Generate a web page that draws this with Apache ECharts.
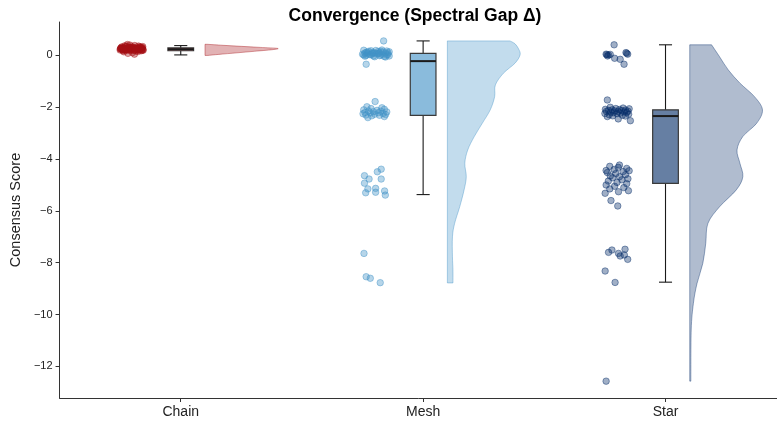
<!DOCTYPE html>
<html>
<head>
<meta charset="utf-8">
<script src="https://cdn.jsdelivr.net/npm/echarts@6/dist/echarts.min.js"></script>
<style>
  html, body { margin: 0; padding: 0; background: #ffffff; }
  #chart { width: 777px; height: 423px; }
</style>
</head>
<body>
<div id="chart"></div>
<script>
// Topologies and their colours
const categories = ['Chain', 'Mesh', 'Star'];
const palette = ['#a50f15', '#4292c6', '#08306b'];
const yTicks = [-12, -10, -8, -6, -4, -2, 0];

// Individual runs: [horizontal jitter, consensus score]
const chainPoints = [
  [-0.245,0.31],[-0.232,0.27],[-0.221,0.35],[-0.208,0.22],[-0.196,0.29],[-0.183,0.25],[-0.171,0.33],[-0.160,0.20],[-0.238,0.18],[-0.226,0.26],
  [-0.214,0.30],[-0.202,0.24],[-0.190,0.38],[-0.177,0.21],[-0.165,0.28],[-0.156,0.23],[-0.249,0.25],[-0.235,0.14],[-0.219,0.29],[-0.205,0.32],
  [-0.193,0.19],[-0.180,0.27],[-0.168,0.24],[-0.158,0.30],[-0.241,0.22],[-0.229,0.34],[-0.216,0.26],[-0.199,0.11],[-0.186,0.23],[-0.174,0.36],
  [-0.162,0.26],[-0.247,0.28],[-0.233,0.21],[-0.222,0.25],[-0.210,0.40],[-0.197,0.27],[-0.184,0.17],[-0.172,0.29],[-0.159,0.24],[-0.243,0.33],
  [-0.230,0.23],[-0.218,0.08],[-0.206,0.26],[-0.194,0.30],[-0.181,0.22],[-0.169,0.25],[-0.157,0.34],[-0.239,0.27],[-0.224,0.20],[-0.212,0.31],
  [-0.200,0.25],[-0.188,0.28],[-0.176,0.15],[-0.164,0.27],[-0.250,0.21],[-0.236,0.29],[-0.223,0.24],[-0.211,0.19],[-0.198,0.33],[-0.185,0.26],
  [-0.173,0.22],[-0.161,0.30],[-0.244,0.26],[-0.231,0.37],[-0.217,0.23],[-0.204,0.28],[-0.191,0.05],[-0.179,0.25],[-0.166,0.32],[-0.155,0.20],
  [-0.240,0.28],[-0.227,0.24],[-0.213,0.30],[-0.201,0.21],[-0.189,0.27],[-0.175,0.29],[-0.163,0.18],[-0.248,0.26],[-0.234,0.23],[-0.220,0.42]
];

const meshPoints = [
  [-0.163,0.56],
  [-0.245,0.20],[-0.230,0.12],[-0.215,0.18],[-0.200,0.10],[-0.185,0.15],[-0.170,0.21],[-0.155,0.09],[-0.140,0.14],[-0.240,0.09],[-0.225,0.16],
  [-0.210,0.11],[-0.195,0.19],[-0.180,0.10],[-0.165,0.13],[-0.150,0.17],[-0.235,0.12],[-0.205,0.09],[-0.175,0.16],[-0.145,0.10],
  [-0.250,0.05],[-0.235,0.00],[-0.220,0.03],[-0.205,-0.02],[-0.190,0.06],[-0.175,0.01],[-0.160,-0.04],[-0.145,0.04],[-0.240,-0.03],[-0.210,0.07],
  [-0.180,-0.01],[-0.150,0.02],[-0.230,0.06],[-0.200,-0.05],[-0.170,0.05],[-0.140,-0.02],[-0.215,0.03],[-0.185,0.07],[-0.155,-0.06],[-0.245,0.02],
  [-0.235,-0.34],
  [-0.198,-1.78],[-0.232,-1.98],[-0.170,-2.02],[-0.215,-2.05],[-0.160,-2.08],[-0.245,-2.10],[-0.190,-2.12],[-0.225,-2.14],[-0.175,-2.15],[-0.205,-2.17],
  [-0.150,-2.18],[-0.240,-2.20],[-0.185,-2.21],[-0.218,-2.22],[-0.165,-2.24],[-0.248,-2.25],[-0.200,-2.27],[-0.155,-2.28],[-0.236,-2.30],[-0.180,-2.31],
  [-0.212,-2.33],[-0.160,-2.36],[-0.228,-2.40],
  [-0.242,-4.64],[-0.223,-4.77],[-0.242,-4.93],[-0.189,-4.49],[-0.173,-4.39],[-0.173,-4.77],[-0.196,-5.13],[-0.228,-5.15],[-0.237,-5.30],[-0.196,-5.28],
  [-0.159,-5.23],[-0.156,-5.39],
  [-0.244,-7.64],[-0.235,-8.54],[-0.218,-8.60],[-0.177,-8.77]
];

const starPoints = [
  [-0.212,0.41],[-0.245,0.05],[-0.235,0.02],[-0.239,-0.02],[-0.210,-0.11],[-0.187,-0.15],[-0.163,0.11],[-0.156,0.05],[-0.171,-0.34],[-0.242,0.03],
  [-0.160,0.08],[-0.228,0.04],
  [-0.240,-1.72],[-0.228,-2.00],[-0.175,-2.03],[-0.205,-2.05],[-0.150,-2.06],[-0.248,-2.08],[-0.190,-2.09],[-0.220,-2.10],[-0.165,-2.11],[-0.235,-2.12],
  [-0.182,-2.13],[-0.210,-2.14],[-0.155,-2.15],[-0.244,-2.16],[-0.196,-2.17],[-0.170,-2.18],[-0.226,-2.19],[-0.160,-2.20],[-0.214,-2.21],[-0.186,-2.22],
  [-0.250,-2.24],[-0.200,-2.25],[-0.152,-2.27],[-0.232,-2.29],[-0.178,-2.31],[-0.218,-2.33],[-0.165,-2.34],[-0.240,-2.36],[-0.195,-2.45],[-0.145,-2.52],
  [-0.197,-5.81],[-0.225,-5.60],[-0.249,-5.32],[-0.194,-5.26],[-0.153,-5.22],[-0.230,-5.15],[-0.172,-5.10],[-0.210,-5.05],[-0.245,-5.00],[-0.160,-4.95],
  [-0.200,-4.90],[-0.236,-4.85],[-0.180,-4.80],[-0.155,-4.76],[-0.218,-4.72],[-0.190,-4.68],[-0.228,-4.65],[-0.165,-4.60],[-0.205,-4.56],[-0.240,-4.52],
  [-0.175,-4.48],[-0.150,-4.45],[-0.245,-4.44],[-0.212,-4.40],[-0.160,-4.36],[-0.195,-4.32],[-0.230,-4.28],[-0.190,-4.23],
  [-0.235,-7.60],[-0.221,-7.51],[-0.194,-7.64],[-0.187,-7.74],[-0.167,-7.48],[-0.170,-7.70],[-0.156,-7.87],[-0.249,-8.32],[-0.208,-8.76],
  [-0.245,-12.57]
];

// Box summaries: [lower whisker, Q1, median, Q3, upper whisker]
const chainBox = [0.02, 0.18, 0.24, 0.29, 0.38];
const meshBox = [-5.37, -2.31, -0.22, 0.08, 0.56];
const starBox = [-8.75, -4.94, -2.34, -2.10, 0.41];

// Density profiles: [score, relative width], bottom to top
const chainDensity = [
  [0.00,0.04],[0.04,0.19],[0.10,0.44],[0.16,0.68],[0.22,0.92],[0.27,1.00],[0.31,0.76],[0.35,0.50],[0.39,0.25],[0.43,0.03]
];
const meshDensity = [
  [-8.78,0.077],[-8.28,0.077],[-7.77,0.07],[-7.00,0.07],[-6.48,0.10],[-5.84,0.17],[-5.19,0.23],[-4.68,0.26],[-4.16,0.24],[-3.65,0.28],
  [-3.13,0.37],[-2.62,0.48],[-2.10,0.59],[-1.59,0.65],[-1.14,0.66],[-0.69,0.77],[-0.30,0.93],[0.02,1.00],[0.25,0.98],[0.45,0.93],[0.56,0.86]
];
const starDensity = [
  [-12.57,0.015],[-10.60,0.02],[-9.57,0.05],[-8.80,0.10],[-8.02,0.18],[-7.25,0.22],[-6.48,0.25],[-5.84,0.41],[-5.19,0.64],[-4.68,0.73],
  [-4.16,0.69],[-3.65,0.65],[-3.13,0.73],[-2.62,0.92],[-2.10,1.00],[-1.59,0.89],[-1.07,0.69],[-0.56,0.53],[-0.05,0.41],[0.41,0.30]
];

const pointSets = [chainPoints, meshPoints, starPoints];
const boxSets = [chainBox, meshBox, starBox];
const densitySets = [chainDensity, meshDensity, starDensity];

const FONT = '"Liberation Sans", Arial, Helvetica, sans-serif';
const VIOLIN_OFFSET = 0.1;
const VIOLIN_WIDTH = 0.3;
const BOX_HALF = 0.053;
const CAP_HALF = 0.027;

function rgba(hex, a) {
  const n = parseInt(hex.slice(1), 16);
  return 'rgba(' + ((n >> 16) & 255) + ',' + ((n >> 8) & 255) + ',' + (n & 255) + ',' + a + ')';
}

// Half violin: flat edge on the left, smooth density outline on the right
function renderViolin(params, api) {
  const i = api.value(0);
  const prof = densitySets[i];
  const base = i + VIOLIN_OFFSET;
  const pts = prof.map(function (d) { return api.coord([base + VIOLIN_WIDTH * d[1], d[0]]); });
  const lb = api.coord([base, prof[0][0]]);
  const lt = api.coord([base, prof[prof.length - 1][0]]);
  let d = 'M' + lb[0] + ',' + lb[1] + ' L' + pts[0][0] + ',' + pts[0][1];
  for (let k = 0; k < pts.length - 1; k++) {
    const p0 = pts[Math.max(k - 1, 0)], p1 = pts[k], p2 = pts[k + 1], p3 = pts[Math.min(k + 2, pts.length - 1)];
    const c1x = p1[0] + (p2[0] - p0[0]) / 6, c1y = p1[1] + (p2[1] - p0[1]) / 6;
    const c2x = p2[0] - (p3[0] - p1[0]) / 6, c2y = p2[1] - (p3[1] - p1[1]) / 6;
    d += ' C' + c1x + ',' + c1y + ' ' + c2x + ',' + c2y + ' ' + p2[0] + ',' + p2[1];
  }
  d += ' L' + lt[0] + ',' + lt[1] + ' Z';
  return {
    type: 'path',
    shape: { pathData: d },
    style: { fill: rgba(palette[i], 0.32), stroke: rgba(palette[i], 0.4), lineWidth: 1 }
  };
}

function renderBox(params, api) {
  const i = api.value(0);
  const lo = api.value(1), q1 = api.value(2), med = api.value(3), q3 = api.value(4), hi = api.value(5);
  const tl = api.coord([i - BOX_HALF, q3]);
  const br = api.coord([i + BOX_HALF, q1]);
  const line = function (x1, y1, x2, y2, w) {
    const a = api.coord([x1, y1]), b = api.coord([x2, y2]);
    return { type: 'line', shape: { x1: a[0], y1: a[1], x2: b[0], y2: b[1] }, style: { stroke: '#1a1a1a', lineWidth: w } };
  };
  return {
    type: 'group',
    children: [
      line(i, q3, i, hi, 1.1),
      line(i, q1, i, lo, 1.1),
      line(i - CAP_HALF, hi, i + CAP_HALF, hi, 1.1),
      line(i - CAP_HALF, lo, i + CAP_HALF, lo, 1.1),
      {
        type: 'rect',
        shape: { x: tl[0], y: tl[1], width: br[0] - tl[0], height: br[1] - tl[1] },
        style: { fill: rgba(palette[i], 0.62), stroke: '#3a3a3a', lineWidth: 1.2 }
      },
      line(i - BOX_HALF, med, i + BOX_HALF, med, 2)
    ]
  };
}

const series = [];
series.push({
  type: 'custom',
  renderItem: renderViolin,
  data: categories.map(function (c, i) { return [i]; }),
  silent: true, z: 1
});
series.push({
  type: 'custom',
  renderItem: renderBox,
  data: boxSets.map(function (b, i) { return [i].concat(b); }),
  silent: true, z: 2
});
pointSets.forEach(function (pts, i) {
  series.push({
    type: 'scatter',
    data: pts.map(function (p) { return [i + p[0], p[1]]; }),
    symbolSize: 6.5,
    itemStyle: { color: rgba(palette[i], 0.48), borderColor: rgba(palette[i], 0.7), borderWidth: 0.8 },
    silent: true, z: 3
  });
});

const chart = echarts.init(document.getElementById('chart'), null, { renderer: 'canvas' });
chart.setOption({
  animation: false,
  backgroundColor: '#ffffff',
  title: {
    text: 'Convergence (Spectral Gap \u0394)',
    left: 410, top: 2, textAlign: 'center',
    textStyle: { fontFamily: FONT, fontSize: 17.5, fontWeight: 'bold', color: '#000' }
  },
  grid: { left: 57, right: 0, top: 22, bottom: 25 },
  xAxis: {
    type: 'value', min: -0.5, max: 2.46,
    splitLine: { show: false },
    axisLine: { show: true, onZero: false, lineStyle: { color: '#333', width: 1 } },
    axisTick: { show: true, customValues: [0, 1, 2], length: 4, lineStyle: { color: '#333' } },
    axisLabel: {
      customValues: [0, 1, 2],
      formatter: function (v) { return categories[Math.round(v)]; },
      fontFamily: FONT, fontSize: 14, color: '#222', margin: 7
    }
  },
  yAxis: {
    type: 'value', min: -13.22, max: 1.29,
    name: 'Consensus Score', nameLocation: 'middle', nameGap: 34,
    nameTextStyle: { fontFamily: FONT, fontSize: 14.5, color: '#222' },
    splitLine: { show: false },
    axisLine: { show: true, onZero: false, lineStyle: { color: '#333', width: 1 } },
    axisTick: { show: true, customValues: yTicks, length: 4, lineStyle: { color: '#333' } },
    axisLabel: {
      customValues: yTicks,
      formatter: function (v) { return v < 0 ? '\u2212' + Math.abs(v) : String(v); },
      fontFamily: FONT, fontSize: 11, color: '#222', margin: 7
    }
  },
  series: series
});
</script>
</body>
</html>
